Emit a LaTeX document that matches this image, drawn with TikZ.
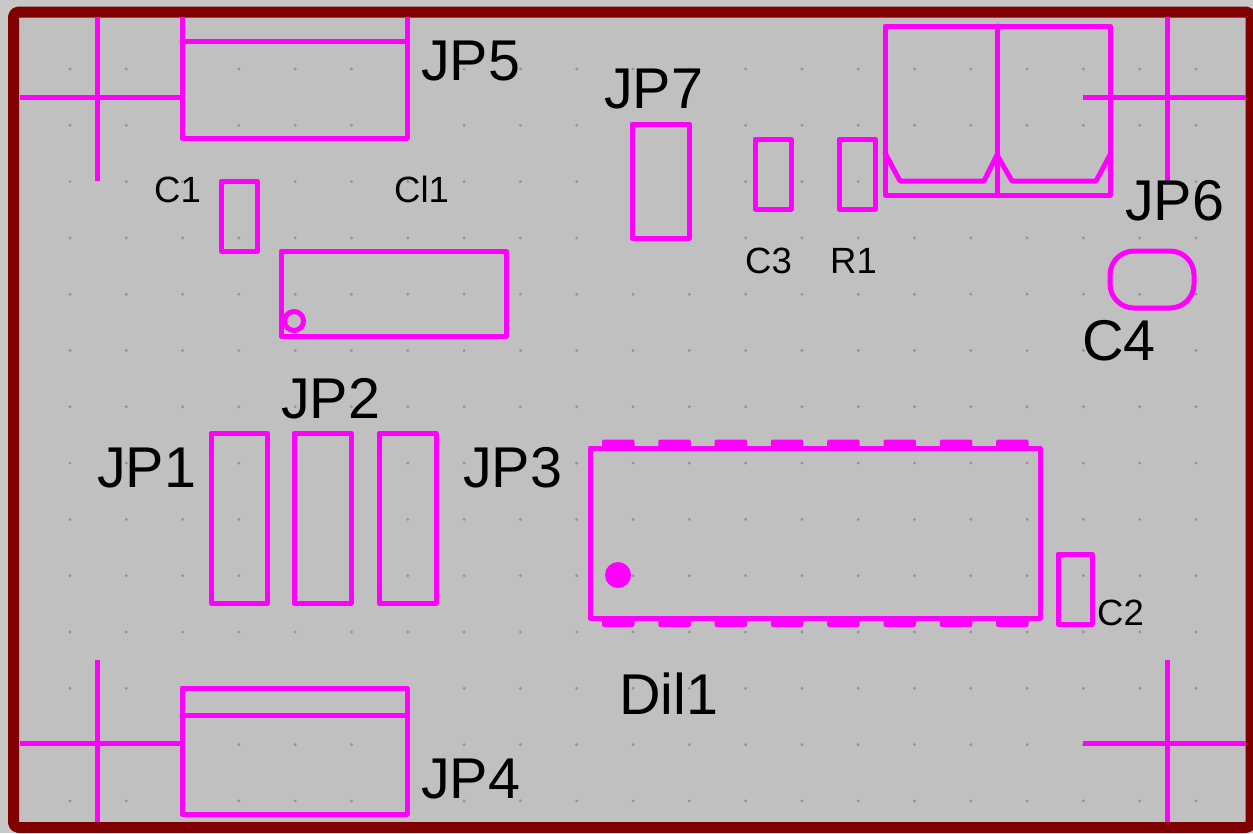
\documentclass[tikz,border=0pt]{standalone}
\usepackage{fontspec}
\setmainfont{Liberation Sans}
\definecolor{boardgrey}{HTML}{C0C0C0}
\definecolor{outergrey}{HTML}{C8C8C8}
\definecolor{frame}{HTML}{800000}
\definecolor{trace}{HTML}{FF00FF}
\definecolor{griddot}{HTML}{949494}
\tikzset{
  part/.style={draw=trace,line width=5pt,line join=round,line cap=round},
  bigtext/.style={anchor=base west,inner sep=0pt,font=\fontsize{57.5}{58}\selectfont},
  smalltext/.style={anchor=base west,inner sep=0pt,font=\fontsize{36.5}{37}\selectfont},
  pad/.style={fill=trace,rounded corners=2pt},
}
\begin{document}
\begin{tikzpicture}[x=1pt,y=-1pt]
\useasboundingbox (0,0) rectangle (1253,833);
\fill[outergrey] (0,0) rectangle (1253,833);
% board and frame
\filldraw[fill=boardgrey,draw=frame,line width=11pt,rounded corners=5pt,line join=round] (13.5,12) rectangle (1251,827.5);
% grid
\foreach \i in {0,...,20}{
  \foreach \j in {0,...,13}{
    \fill[griddot] ({70+56.3*\i},{69+56.3*\j-1.6}) -- ++(1.6,1.6) -- ++(-1.6,1.6) -- ++(-1.6,-1.6) -- cycle;
  }
}
% mounting crosses
\draw[part,line cap=butt] (20,97) -- (182,97) (97,17) -- (97,181);
\draw[part,line cap=butt] (20,743) -- (182,743) (97,660) -- (97,822);
\draw[part,line cap=butt] (1083,97) -- (1246,97) (1167,17) -- (1167,181);
\draw[part,line cap=butt] (1083,743) -- (1246,743) (1167,660) -- (1167,822);
% JP5
\draw[part,line cap=butt] (182,17) -- (182,138) -- (407,138) -- (407,17);
\draw[part] (182,41) -- (407,41);
% JP4
\draw[part] (182,688) rectangle (407,814);
\draw[part] (182,715) -- (407,715);
% JP6 body
\draw[part] (885,26) rectangle (1110,195);
\draw[part] (997,26) -- (997,195);
\draw[part] (885,153) -- (900,181) -- (984,181) -- (997,155) -- (1012,181) -- (1096,181) -- (1110,155);
% small parts
\draw[part] (221,181) rectangle (257,251);
\draw[part] (281,251) rectangle (506,336);
\draw[part] (294,321) circle (9.5);
\draw[part] (632,124) rectangle (689,238);
\draw[part] (755,139) rectangle (791,209);
\draw[part] (839,139) rectangle (875,209);
\draw[part,rounded corners=24pt] (1110,251) rectangle (1194,308);
\draw[part] (211,433) rectangle (267,603);
\draw[part] (294,433) rectangle (351,603);
\draw[part] (379,433) rectangle (436,603);
\draw[part] (1058,554) rectangle (1092,624);
% DIL package
\foreach \k in {0,...,7}{
  \fill[pad] ({602+56.3*\k},439.5) rectangle ({634.5+56.3*\k},450);
  \fill[pad] ({602+56.3*\k},616) rectangle ({634.5+56.3*\k},627);
}
\draw[part] (590,448) rectangle (1040,618);
\fill[trace] (618,575) circle (13);
% labels
\node[bigtext] (jp5) at (421,80) {JP5};
\node[bigtext] (jp7) at (604,108) {JP7};
\node[bigtext] (jp6) at (1125,220) {JP6};
\node[bigtext] (c4) at (1082,360) {C4};
\node[bigtext] (jp2) at (281,418) {JP2};
\node[bigtext] (jp1) at (97,487) {JP1};
\node[bigtext] (jp3) at (463,487) {JP3};
\node[bigtext] (dil1) at (619,714) {Dil1};
\node[bigtext] (jp4) at (421,798) {JP4};
\node[smalltext] (c1) at (154,202) {C1};
\node[smalltext] (cl1) at (394,202) {Cl1};
\node[smalltext] (c3) at (745,273) {C3};
\node[smalltext] (r1) at (830,273) {R1};
\node[smalltext] (c2) at (1097,625) {C2};
\end{tikzpicture}
\end{document}
